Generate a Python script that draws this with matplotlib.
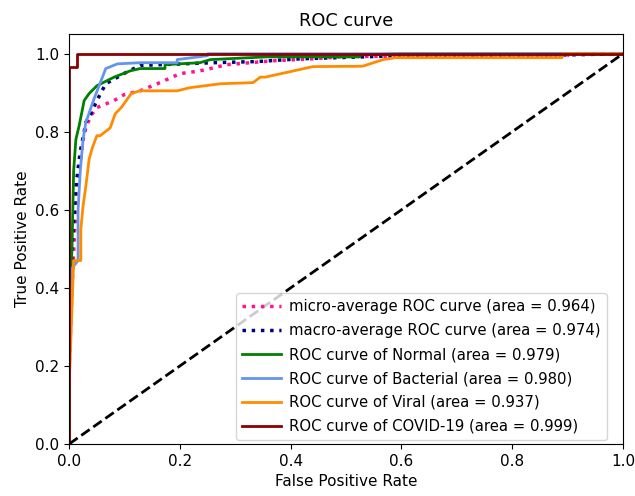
import matplotlib
matplotlib.use("Agg")
import matplotlib.pyplot as plt

plt.rcParams['font.size'] = 11

# ---- data (fpr, tpr pairs) ----
micro_fpr = [0, 0, 0.005, 0.01, 0.015, 0.02, 0.025, 0.03, 0.039, 0.05, 0.081, 0.099,
             0.128, 0.164, 0.2, 0.236, 0.285, 0.368, 0.44, 0.5, 0.9, 0.9, 1]
micro_tpr = [0, 0.2, 0.4, 0.55, 0.66, 0.72, 0.78, 0.81, 0.841, 0.862, 0.88, 0.895,
             0.905, 0.926, 0.949, 0.956, 0.972, 0.982, 0.987, 0.993, 0.995, 1, 1]

macro_fpr = [0, 0, 0.005, 0.012, 0.02, 0.027, 0.03, 0.039, 0.05, 0.066, 0.1, 0.128,
             0.26, 0.34, 0.417, 0.6, 0.9, 1]
macro_tpr = [0, 0.3, 0.5, 0.66, 0.75, 0.80, 0.824, 0.846, 0.88, 0.923, 0.95, 0.97,
             0.977, 0.98, 0.987, 0.995, 0.997, 1]

normal_fpr = [0, 0, 0.005, 0.008, 0.012, 0.018, 0.027, 0.036, 0.05, 0.081, 0.11, 0.128,
              0.173, 0.173, 0.236, 0.255, 0.357, 0.525, 0.525, 0.6, 1]
normal_tpr = [0, 0.35, 0.5, 0.7, 0.78, 0.816, 0.88, 0.898, 0.918, 0.94, 0.956, 0.962,
              0.962, 0.972, 0.977, 0.985, 0.992, 0.992, 0.997, 1, 1]

bacterial_fpr = [0, 0, 0.005, 0.016, 0.016, 0.02, 0.025, 0.03, 0.045, 0.054, 0.066,
                 0.087, 0.128, 0.195, 0.195, 0.25, 0.25, 1]
bacterial_tpr = [0, 0.2, 0.45, 0.47, 0.6, 0.7, 0.78, 0.824, 0.885, 0.918, 0.962,
                 0.974, 0.977, 0.977, 0.985, 0.995, 1, 1]

viral_fpr = [0, 0, 0.008, 0.021, 0.021, 0.025, 0.03, 0.036, 0.042, 0.05, 0.056, 0.074,
             0.083, 0.094, 0.112, 0.128, 0.195, 0.218, 0.273, 0.332, 0.345, 0.354,
             0.405, 0.44, 0.53, 0.567, 0.59, 0.89, 0.89, 1]
viral_tpr = [0, 0.15, 0.47, 0.47, 0.55, 0.61, 0.66, 0.73, 0.76, 0.79, 0.79, 0.81,
             0.846, 0.862, 0.898, 0.905, 0.905, 0.913, 0.923, 0.926, 0.94, 0.94,
             0.956, 0.967, 0.968, 0.985, 0.99, 0.99, 1, 1]

covid_fpr = [0, 0, 0.014, 0.014, 1]
covid_tpr = [0, 0.967, 0.967, 1, 1]

class_names = ['Normal', 'Bacterial', 'Viral', 'COVID-19']
class_auc = [0.979, 0.980, 0.937, 0.999]
class_colors = ['green', 'cornflowerblue', 'darkorange', 'darkred']
micro_auc = 0.964
macro_auc = 0.974

# ---- figure ----
fig = plt.figure(figsize=(6.35, 4.96), dpi=100)
ax = fig.add_axes([0.109, 0.105, 0.872, 0.826])

ax.plot(micro_fpr, micro_tpr, color='deeppink', linestyle=':', linewidth=2.5,
        label='micro-average ROC curve (area = {0:0.3f})'.format(micro_auc))
ax.plot(macro_fpr, macro_tpr, color='navy', linestyle=':', linewidth=2.5,
        label='macro-average ROC curve (area = {0:0.3f})'.format(macro_auc))

class_curves = [(normal_fpr, normal_tpr), (bacterial_fpr, bacterial_tpr),
                (viral_fpr, viral_tpr), (covid_fpr, covid_tpr)]
for (fpr, tpr), name, auc, col in zip(class_curves, class_names, class_auc, class_colors):
    ax.plot(fpr, tpr, color=col, lw=2,
            label='ROC curve of {0} (area = {1:0.3f})'.format(name, auc))

ax.plot([0, 1], [0, 1], 'k--', lw=2)

ax.set_xlim([0.0, 1.0])
ax.set_ylim([0.0, 1.05])
ax.set_xlabel('False Positive Rate')
ax.set_ylabel('True Positive Rate')
ax.set_title('ROC curve', fontsize=12.8)
ax.legend(loc='lower right', bbox_to_anchor=(0.971, 0.01), borderaxespad=0,
          fontsize=10.7, handlelength=2.6, handletextpad=0.6, labelspacing=0.6)

fig.savefig('out.png', dpi=100)
